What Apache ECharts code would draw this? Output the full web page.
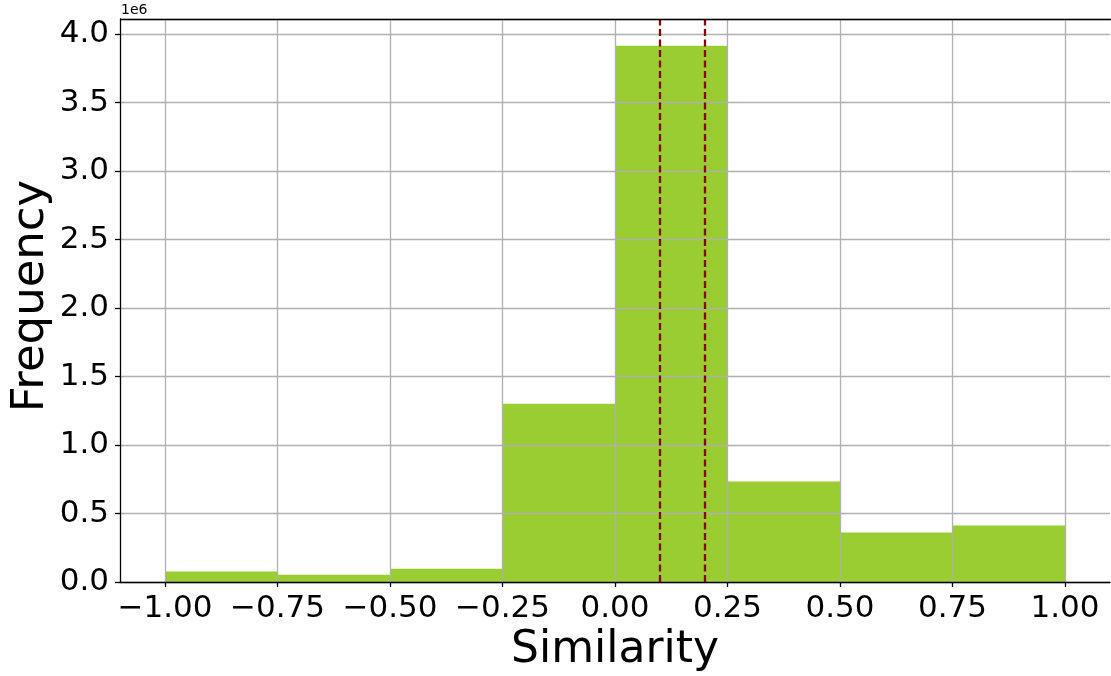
<!DOCTYPE html>
<html>
<head>
<meta charset="utf-8">
<script src="https://cdn.jsdelivr.net/npm/echarts@6/dist/echarts.min.js"></script>
<style>html,body{margin:0;padding:0;background:#fff;}#c{width:1111px;height:676px;}</style>
</head>
<body>
<div id="c"></div>
<script>
const binEdges = [-1.0, -0.75, -0.5, -0.25, 0.0, 0.25, 0.5, 0.75, 1.0];
const counts = [77000, 53000, 97000, 1302000, 3915000, 733000, 362000, 413000];
const xTicks = [-1.0, -0.75, -0.5, -0.25, 0.0, 0.25, 0.5, 0.75, 1.0];
const refLines = [0.1, 0.2];
const xName = 'Similarity';
const yName = 'Frequency';
const FONT = 'DejaVu Sans';

const histData = counts.map((c, i) => [binEdges[i], binEdges[i + 1], c]);

const chart = echarts.init(document.getElementById('c'), null, {renderer: 'canvas'});
chart.setOption({
  animation: false,
  backgroundColor: '#fff',
  grid: {left: 120, right: 1, top: 19, bottom: 94, containLabel: false, outerBoundsMode: 'none'},
  xAxis: {
    type: 'value', min: -1.1, max: 1.1, z: 3,
    name: xName, nameLocation: 'middle', nameGap: 47,
    nameTextStyle: {fontFamily: FONT, fontSize: 44, color: '#000'},
    axisLine: {show: true, onZero: false, lineStyle: {color: '#000', width: 1.3}},
    axisTick: {show: true, length: 5, lineStyle: {color: '#000', width: 1.3}, customValues: xTicks},
    axisLabel: {
      customValues: xTicks, margin: 11, fontFamily: FONT, fontSize: 31, color: '#000',
      formatter: v => (v < 0 ? '\u2212' : '') + Math.abs(v).toFixed(2)
    },
    splitLine: {show: true, lineStyle: {color: '#b0b0b0', width: 1.3}}
  },
  yAxis: {
    type: 'value', min: 0, max: 4110000, interval: 500000, z: 3,
    axisLine: {show: true, onZero: false, lineStyle: {color: '#000', width: 1.3}},
    axisTick: {show: true, length: 5, lineStyle: {color: '#000', width: 1.3}},
    axisLabel: {
      margin: 11, fontFamily: FONT, fontSize: 31, color: '#000', showMaxLabel: false,
      formatter: v => (v / 1e6).toFixed(1)
    },
    splitLine: {show: true, lineStyle: {color: '#b0b0b0', width: 1.3}}
  },
  graphic: [
    {type: 'text', left: 121, top: 3, style: {text: '1e6', fontFamily: FONT, fontSize: 14, fill: '#000'}},
    {type: 'text', x: 31, y: 296, rotation: Math.PI / 2,
     style: {text: yName, fontFamily: FONT, fontSize: 45, fill: '#000', align: 'center', verticalAlign: 'middle'}},
    {type: 'line', shape: {x1: 120, y1: 19.5, x2: 1111, y2: 19.5}, style: {stroke: '#000', lineWidth: 1.3}, z: 10}
  ],
  series: [{
    type: 'custom',
    data: histData,
    encode: {x: [0, 1], y: 2},
    z: 2,
    renderItem: (params, api) => {
      const p0 = api.coord([api.value(0), 0]);
      const p1 = api.coord([api.value(1), api.value(2)]);
      return {
        type: 'rect',
        shape: {x: p0[0], y: p1[1], width: p1[0] - p0[0], height: p0[1] - p1[1]},
        style: {fill: '#9acd32'}
      };
    },
    markLine: {
      silent: true, symbol: 'none', z: 5,
      label: {show: false},
      lineStyle: {color: '#8b0000', width: 2.3, type: [7, 3.5]},
      data: refLines.map(v => ({xAxis: v}))
    }
  }]
});
</script>
</body>
</html>
